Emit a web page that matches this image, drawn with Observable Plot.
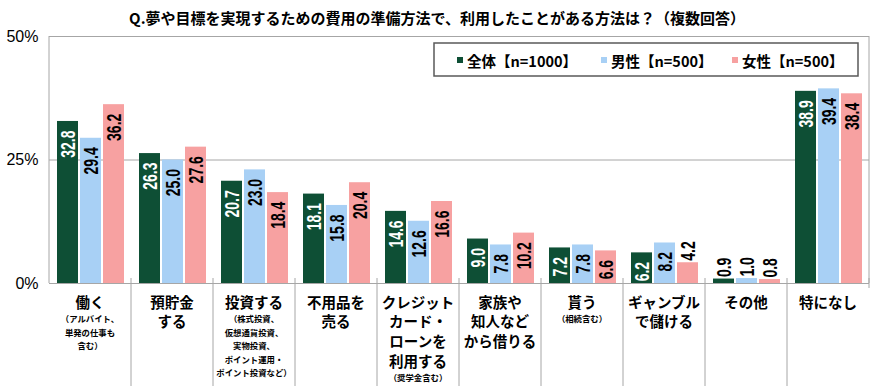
<!DOCTYPE html>
<html><head><meta charset="utf-8">
<script src="https://cdn.jsdelivr.net/npm/d3@7"></script>
<script src="https://cdn.jsdelivr.net/npm/@observablehq/plot@0.6"></script>
<style>body{margin:0;background:#fff;}</style>
</head><body><div id="chart"></div>
<script>
const categories = ["働く","預貯金する","投資する","不用品を売る","クレジットカード・ローンを利用する","家族や知人などから借りる","貰う","ギャンブルで儲ける","その他","特になし"];
const mainLabels = [["働く"],["預貯金","する"],["投資する"],["不用品を","売る"],["クレジット","カード・","ローンを","利用する"],["家族や","知人など","から借りる"],["貰う"],["ギャンブル","で儲ける"],["その他"],["特になし"]];
const subLabels = [["（アルバイト、","単発の仕事も","含む）"],[],["（株式投資、","仮想通貨投資、","実物投資、","ポイント運用・","ポイント投資など）"],[],["（奨学金含む）"],[],["（相続含む）"],[],[],[]];
const seriesNames = ["全体【n=1000】","男性【n=500】","女性【n=500】"];
const totalValues = [32.8,26.3,20.7,18.1,14.6,9.0,7.2,6.2,0.9,38.9];
const maleValues = [29.4,25.0,23.0,15.8,12.6,7.8,7.8,8.2,1.0,39.4];
const femaleValues = [36.2,27.6,18.4,20.4,16.6,10.2,6.6,4.2,0.8,38.4];
const seriesColors = ["#0e4f35","#a8d0f5","#f7a1a1"];
const labelColors = ["#ffffff","#000000","#000000"];
const yTicks = [0,25,50];
const yMax = 50;
const title = "Q.夢や目標を実現するための費用の準備方法で、利用したことがある方法は？（複数回答）";

const seriesValues = [totalValues, maleValues, femaleValues];
const rows = [];
categories.forEach((c, i) => seriesNames.forEach((s, j) => rows.push({
  cat: c, series: s, value: seriesValues[j][i], color: seriesColors[j], labelColor: labelColors[j], inside: seriesValues[j][i] >= 5
})));

const numFont = "'Liberation Sans',Arial,sans-serif";
const jpFont = "'Noto Sans CJK JP','Noto Sans',sans-serif";
const gray = "#a6a6a6";

const chart = Plot.plot({
  width: 880, height: 386,
  marginTop: 36, marginBottom: 103, marginLeft: 48, marginRight: 10,
  style: {fontFamily: "'Liberation Sans',Arial,sans-serif", background: "#fff", overflow: "visible"},
  fx: {domain: categories, padding: 0, axis: null},
  x: {domain: seriesNames, paddingInner: 0.1, paddingOuter: 0.3, axis: null},
  y: {domain: [0, yMax], axis: null},
  color: {type: "identity"},
  marks: [
    Plot.ruleY(yTicks, {stroke: gray, strokeWidth: 1}),
    Plot.axisY({ticks: yTicks, tickFormat: d => d + "%", tickSize: 0, tickPadding: 11, fontSize: 16, label: null}),
    Plot.barY(rows, {fx: "cat", x: "series", y: "value", fill: "color"}),
    Plot.text(rows.filter(d => d.inside), {fx: "cat", x: "series", y: "value", text: d => d.value.toFixed(1),
      rotate: -90, textAnchor: "end", dy: 9, fill: "labelColor", fontSize: 14, fontWeight: "bold", fontFamily: numFont, className: "vlab"}),
    Plot.text(rows.filter(d => !d.inside), {fx: "cat", x: "series", y: "value", text: d => d.value.toFixed(1),
      rotate: -90, textAnchor: "start", dy: -2, fill: "#000", fontSize: 14, fontWeight: "bold", fontFamily: numFont, className: "vlab"})
  ]
});

const svg = d3.select(chart);
svg.selectAll("g.vlab text").attr("transform", function() { return d3.select(this).attr("transform") + " scale(1,1.45)"; });

const fx = chart.scale("fx");
const ys = chart.scale("y");
const yPos = v => ys.apply ? ys.apply(v) : ys.range[0] + (v - ys.domain[0]) / (ys.domain[1] - ys.domain[0]) * (ys.range[1] - ys.range[0]);
const bw = fx.bandwidth;
const x0 = fx.apply(categories[0]);
const x1 = fx.apply(categories[categories.length - 1]) + bw;
const yTop = yPos(yMax), yBase = yPos(0);
const deco = svg.append("g");
deco.append("line").attr("x1", x0).attr("x2", x0).attr("y1", yTop).attr("y2", yBase).attr("stroke", gray);
deco.append("line").attr("x1", x1).attr("x2", x1).attr("y1", yTop).attr("y2", yBase).attr("stroke", gray);
categories.forEach((c, i) => {
  const x = fx.apply(c);
  if (i > 0) deco.append("line").attr("x1", x).attr("x2", x).attr("y1", yBase - 5).attr("y2", 386).attr("stroke", gray);
});
deco.append("line").attr("x1", x1).attr("x2", x1).attr("y1", yBase - 5).attr("y2", yBase + 5).attr("stroke", gray);

// x labels
const lab = svg.append("g").attr("font-family", jpFont).attr("font-weight", "bold").attr("text-anchor", "middle").attr("fill", "#000");
categories.forEach((c, i) => {
  const cx = fx.apply(c) + bw / 2;
  const y = yBase + 18;
  mainLabels[i].forEach((t, k) => {
    lab.append("text").attr("x", cx).attr("y", y + k * 19.7).attr("dominant-baseline", "central").attr("font-size", 14.5).text(t);
  });
  const ys2 = y + (mainLabels[i].length - 1) * 19.7 + 17;
  subLabels[i].forEach((t, k) => {
    lab.append("text").attr("x", cx).attr("y", ys2 + k * 13.6).attr("dominant-baseline", "central").attr("font-size", 8.4).text(t);
  });
});

// title
svg.append("text").attr("x", 437).attr("y", 17).attr("text-anchor", "middle").attr("dominant-baseline", "central")
  .attr("font-family", jpFont).attr("font-weight", "bold").attr("font-size", 15).text(title);

// legend
const lg = svg.append("g").attr("text-anchor", "start");
lg.append("rect").attr("x", 434).attr("y", 43).attr("width", 424).attr("height", 33).attr("fill", "#fff").attr("stroke", "#595959").attr("stroke-width", 1.5);
const legX = [457, 601, 732];
seriesNames.forEach((s, j) => {
  lg.append("rect").attr("x", legX[j]).attr("y", 57).attr("width", 6).attr("height", 6).attr("fill", seriesColors[j]);
  lg.append("text").attr("x", legX[j] + 10).attr("y", 60).attr("dominant-baseline", "central")
    .attr("font-family", jpFont).attr("font-weight", "bold").attr("font-size", 14.5).text(s);
});

document.getElementById("chart").appendChild(chart);
</script>
</body></html>
